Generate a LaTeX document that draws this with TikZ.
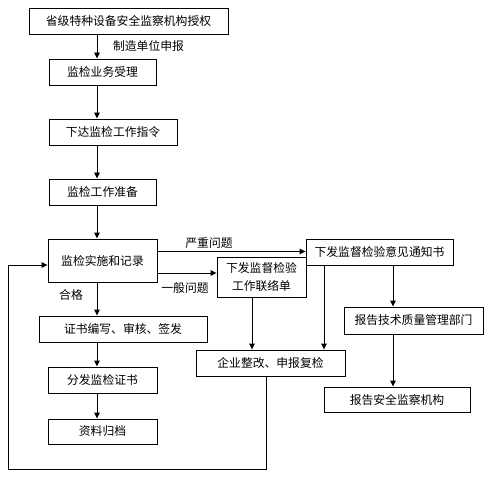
\documentclass[tikz,border=0pt]{standalone}
\usepackage{fontspec}
\setmainfont{Noto Sans CJK SC}
\usetikzlibrary{arrows.meta}
\begin{document}
\begin{tikzpicture}[x=1bp,y=-1bp,
  every node/.style={font=\fontsize{11.8bp}{15bp}\selectfont, inner sep=0pt},
  boxnode/.style={draw, line width=0.9bp, align=center},
  conn/.style={line width=0.9bp, -{Triangle[length=6bp,width=5.5bp]}},
  lbl/.style={}]
\useasboundingbox (0,0) rectangle (490,477);
\fill[white] (0,0) rectangle (490,477);
% main column boxes
\node[boxnode, minimum width=199bp, minimum height=26bp] (B1) at (128.5,21) {省级特种设备安全监察机构授权};
\node[boxnode, minimum width=107bp, minimum height=26bp] (B2) at (102.5,72) {监检业务受理};
\node[boxnode, minimum width=128bp, minimum height=26bp] (B3) at (113,132) {下达监检工作指令};
\node[boxnode, minimum width=107bp, minimum height=26bp] (B4) at (102.5,192) {监检工作准备};
\node[boxnode, minimum width=109bp, minimum height=43bp] (B5) at (102.5,260.5) {监检实施和记录};
\node[boxnode, minimum width=168bp, minimum height=26bp] (B6) at (123,329) {证书编写、审核、签发};
\node[boxnode, minimum width=109bp, minimum height=26bp] (B7) at (102.5,380) {分发监检证书};
\node[boxnode, minimum width=109bp, minimum height=25bp] (B8) at (102.5,431.5) {资料归档};
% right side boxes
\node[boxnode, minimum width=147bp, minimum height=26bp] (N1) at (379.5,252) {下发监督检验意见通知书};
\node[boxnode, minimum width=89bp, minimum height=40bp, font=\fontsize{11.8bp}{18bp}\selectfont] (N2) at (261.5,277.5) {下发监督检验\\工作联络单};
\node[boxnode, minimum width=139bp, minimum height=27bp] (N3) at (413.5,320.5) {报告技术质量管理部门};
\node[boxnode, minimum width=149bp, minimum height=26bp] (E) at (270.5,363) {企业整改、申报复检};
\node[boxnode, minimum width=146bp, minimum height=25bp] (N4) at (397,399.5) {报告安全监察机构};
% helper coordinates
\coordinate (xm) at (97,0);
\coordinate (xa) at (252,0);
\coordinate (xb) at (324,0);
\coordinate (xc) at (393,0);
\coordinate (xl) at (266,0);
\coordinate (ys) at (0,251.5);
\coordinate (yg) at (0,273);
\coordinate (yr) at (0,265);
\coordinate (lb) at (266,469);
\coordinate (ll) at (8,469);
\coordinate (lt) at (8,265);
% main column arrows
\draw[conn] (B1.south -| xm) -- (B2.north -| xm);
\draw[conn] (B2.south -| xm) -- (B3.north -| xm);
\draw[conn] (B3.south -| xm) -- (B4.north -| xm);
\draw[conn] (B4.south -| xm) -- (B5.north -| xm);
\draw[conn] (B5.south -| xm) -- (B6.north -| xm);
\draw[conn] (B6.south -| xm) -- (B7.north -| xm);
\draw[conn] (B7.south -| xm) -- (B8.north -| xm);
% labels
\node[lbl] (L1) at (148.5,46) {制造单位申报};
\node[lbl] (L2) at (71,295) {合格};
\node[lbl] (L3) at (209,243) {严重问题};
\node[lbl] (L4) at (185,288) {一般问题};
% branches
\draw[conn] (B5.east |- ys) -- (N1.west |- ys);
\draw[conn] (B5.east |- yg) -- (N2.west |- yg);
\draw[conn] (N2.south -| xa) -- (E.north -| xa);
\draw[conn] (N1.south -| xb) -- (E.north -| xb);
\draw[conn] (N1.south -| xc) -- (N3.north -| xc);
\draw[conn] (N3.south -| xc) -- (N4.north -| xc);
% loop back
\draw[conn] (E.south -| xl) -- (lb) -- (ll) -- (lt) -- (B5.west |- yr);
\end{tikzpicture}
\end{document}
